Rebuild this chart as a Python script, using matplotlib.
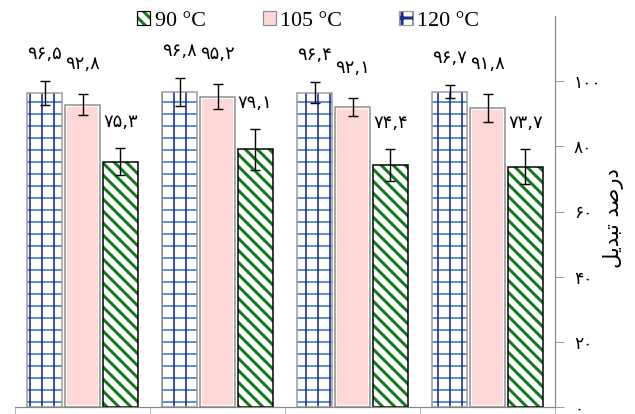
import numpy as np
import matplotlib
matplotlib.use('Agg')
import matplotlib.pyplot as plt
from matplotlib.patches import Patch

# data (4 samples, three temperatures)
conv_120 = [96.5, 96.8, 96.4, 96.7]
conv_105 = [92.8, 95.2, 92.1, 91.8]
conv_90 = [75.3, 79.1, 74.4, 73.7]
err_120 = [3.7, 4.3, 3.2, 2.0]
err_105 = [3.2, 3.8, 2.8, 4.3]
err_90 = [4.1, 6.3, 4.9, 5.4]
legend_labels = ['90 °C', '105 °C', '120 °C']
yticks = [0, 20, 40, 60, 80, 100]
# "درصد تبدیل" written in joined presentation forms, visual order
ylabel = '\ufede\ufbfe\ufeaa\ufe92\ufe97 \ufeaa\ufebb\ufead\ufea9'

fa_digits = str.maketrans('0123456789.', '۰۱۲۳۴۵۶۷۸۹,')


def fa(v):
    return str(v).translate(fa_digits)


plt.rcParams['font.family'] = ['DejaVu Sans']

fig = plt.figure(figsize=(635 / 72, 414 / 72), dpi=72)
ax = fig.add_axes([15 / 635, 7 / 414, 540 / 635, 391 / 414])

x = np.arange(len(conv_120))
w = 0.26
off = 0.28

# 120 C : blue grid
plt.rcParams['hatch.linewidth'] = 1.6
ax.bar(x - off, conv_120, w, color='white', edgecolor='#3a78c2', hatch='-', lw=0)
ax.bar(x - off, conv_120, w, color='none', edgecolor='#1b2a8a', hatch='|', lw=0)
ax.bar(x - off, conv_120, w, color='none', edgecolor='#9a9a9a', lw=1.5)

# 105 C : pink
ax.bar(x, conv_105, w, color='#ffd7d7', edgecolor='white', lw=4)
ax.bar(x, conv_105, w, color='none', edgecolor='#8c8c8c', lw=1.5)

# 90 C : green diagonal
plt.rcParams['hatch.linewidth'] = 3.0
ax.bar(x + off, conv_90, w, color='white', edgecolor='#107a1a', hatch='\\\\', lw=0)
ax.bar(x + off, conv_90, w, color='none', edgecolor='black', lw=1.5)

for xs, vals, errs in [(x - off, conv_120, err_120), (x, conv_105, err_105), (x + off, conv_90, err_90)]:
    ax.errorbar(xs, vals, yerr=errs, fmt='none', ecolor='black', elinewidth=1.4,
                capsize=5, capthick=1.4)

for xs, vals, errs, dy in [(x - off, conv_120, err_120, 27), (x, conv_105, err_105, 30),
                           (x + off, conv_90, err_90, 26)]:
    for xi, v, e in zip(xs, vals, errs):
        ax.annotate(fa(v), (xi, v + e), xytext=(0, dy), textcoords='offset points',
                    ha='center', va='center', fontsize=18)

ax.set_xlim(-0.5, len(x) - 0.5)
ax.set_ylim(0, 120)
ax.set_xticks([])
ax.set_xticks(np.arange(-0.5, len(x)), minor=True)
ax.tick_params(axis='x', which='minor', length=14, color='#888888', direction='out')

ax.yaxis.tick_right()
ax.set_yticks(yticks)
ax.set_yticklabels([fa(t) for t in yticks])
ax.tick_params(axis='y', length=9, color='#888888', direction='out', pad=10, labelsize=17)

for s in ['left', 'top']:
    ax.spines[s].set_visible(False)
for s in ['right', 'bottom']:
    ax.spines[s].set_color('#888888')
    ax.spines[s].set_linewidth(1.2)

ax.yaxis.set_label_position('right')
ax.set_ylabel(ylabel, fontsize=21, rotation=90, va='center', ha='center')
ax.yaxis.set_label_coords(1.108, 0.483)

h90 = (Patch(facecolor='white', edgecolor='#107a1a', hatch='\\\\', lw=0),
       Patch(facecolor='none', edgecolor='black', lw=1.2))
h105 = (Patch(facecolor='#ffd7d7', edgecolor='#8c8c8c', lw=1.2),)
h120 = (Patch(facecolor='white', edgecolor='#1b2a8a', hatch='+', lw=0),
        Patch(facecolor='none', edgecolor='#9a9a9a', lw=1.2))
fig.legend([h90, h105, h120], legend_labels, loc='center', bbox_to_anchor=(0.485, 0.949),
           ncol=3, frameon=False, prop={'family': 'Liberation Serif', 'size': 22},
           handlelength=0.6, handleheight=0.6, handletextpad=0.2, columnspacing=2.6)

fig.savefig('out.png', dpi=72)
